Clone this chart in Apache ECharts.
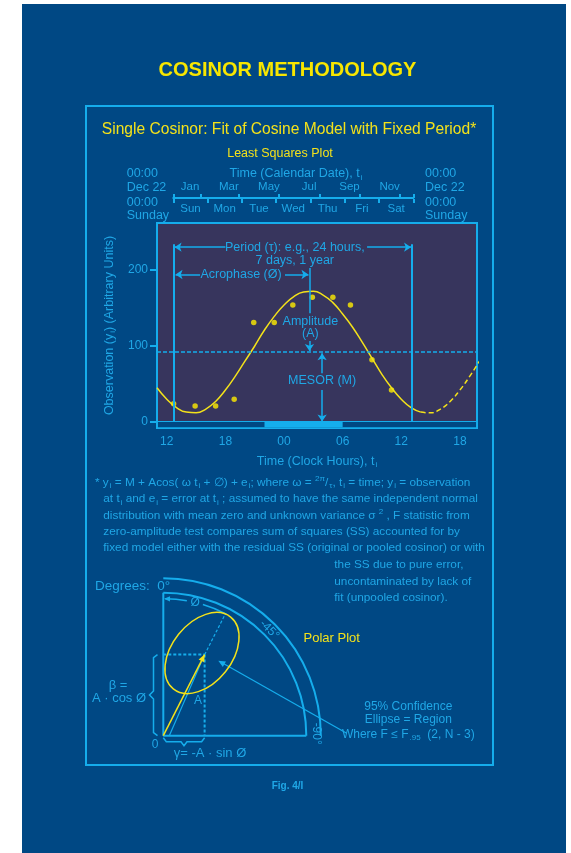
<!DOCTYPE html>
<html>
<head>
<meta charset="utf-8">
<script src="https://cdn.jsdelivr.net/npm/echarts@6/dist/echarts.min.js"></script>
<style>html,body{margin:0;padding:0;background:#fff}#main{width:571px;height:853px}</style>
</head>
<body>
<div id="main"></div>
<script>
// clock-hour axis (hours counted on past midnight), ticks and their labels
var hourTicks = [12, 18, 24, 30, 36, 42];
var hourLabels = ['12', '18', '00', '06', '12', '18'];
var valueTicks = [0, 100, 200];
// calendar axis: days after Dec 22
var monthTickDays = [0, 41, 100, 161, 222, 283, 344, 365];
var monthLabelDays = [25.5, 84.5, 145.5, 206.5, 268, 329];
var monthLabels = ['Jan', 'Mar', 'May', 'Jul', 'Sep', 'Nov'];
var dayTicks = [0, 1, 2, 3, 4, 5, 6, 7];
var dayLabelPos = [0.5, 1.5, 2.5, 3.5, 4.5, 5.5, 6.5];
var dayLabels = ['Sun', 'Mon', 'Tue', 'Wed', 'Thu', 'Fri', 'Sat'];
// observations
var obsHours = [12.7, 14.9, 17.0, 18.9, 20.9, 23.0, 24.9, 26.9, 29.0, 30.8, 33.0, 35.0];
var obsValues = [24, 21, 21, 30, 131, 131, 154, 164, 164, 154, 82, 42];
// fitted cosine
var fitHours = [11, 12, 13, 14, 15, 16, 17, 18, 19, 20, 21, 22, 23, 24, 25, 26, 27, 28, 29, 30, 31, 32, 33, 34, 35, 36, 37, 38];
var fitValues = [45, 30, 19, 13, 12, 17, 27, 42, 60, 80, 100, 121, 139, 154, 165, 171, 172, 167, 157, 142, 125, 105, 84, 63, 45, 30, 19, 13];
var fitDashHours = [38, 39, 40, 41, 42, 43, 44];
var fitDashValues = [13, 12, 17, 27, 42, 60, 80];
// annotations
var mesor = 92, peakValue = 172, acrophaseHour = 26.6;
var periodFrom = 12.7, periodTo = 37.1;
var sleepFrom = 22, sleepTo = 30;

var CYAN = '#15adec', TXT = '#1fa7e6', YELLOW = '#f3e21a', BLUE = '#004884', PLUM = '#37355d';
var FONT = '"Liberation Sans", Arial, Helvetica, sans-serif';

var chart = echarts.init(document.getElementById('main'));

function pairs(xs, ys) {
    return xs.map(function (x, i) { return [x, ys[i]]; });
}
function seg(x1, y1, x2, y2, s1, s2, style) {
    return [{coord: [x1, y1], symbol: s1 || 'none', lineStyle: style || {}},
            {coord: [x2, y2], symbol: s2 || 'none'}];
}
var subRich = {
    s: {color: TXT, fontSize: 8, fontFamily: FONT, verticalAlign: 'bottom', padding: [7, 0, 0, 1]}
};

var option = {
    backgroundColor: BLUE,
    animation: false,
    grid: [
        {left: 157, top: 223, width: 320, height: 205, show: true, backgroundColor: PLUM,
         borderColor: CYAN, borderWidth: 2},
        {left: 173.3, top: 198, width: 240, height: 1, show: false}
    ],
    xAxis: [{
        gridIndex: 0, type: 'value', min: 11, max: 43.75,
        axisLine: {show: true, onZero: true, lineStyle: {color: CYAN, width: 2}},
        axisTick: {show: true, customValues: hourTicks, length: 6, lineStyle: {color: CYAN, width: 2}},
        axisLabel: {customValues: hourTicks, color: TXT, fontSize: 12, fontFamily: FONT, margin: 8,
            formatter: function (v) { return hourLabels[hourTicks.indexOf(v)]; }},
        splitLine: {show: false},
        name: 'Time (Clock Hours), t{s|i}', nameLocation: 'middle', nameGap: 26,
        nameTextStyle: {color: TXT, fontSize: 12.5, fontFamily: FONT, rich: subRich}
    }, {
        gridIndex: 1, type: 'value', min: 0, max: 365, position: 'top',
        axisLine: {show: true, onZero: false, lineStyle: {color: CYAN, width: 2}},
        axisTick: {show: true, customValues: monthTickDays, length: 4, lineStyle: {color: CYAN, width: 2}},
        axisLabel: {customValues: monthLabelDays, color: TXT, fontSize: 11.5, fontFamily: FONT, margin: 5,
            formatter: function (v) { return monthLabels[monthLabelDays.indexOf(v)]; }},
        splitLine: {show: false}
    }, {
        gridIndex: 1, type: 'value', min: 0, max: 7, position: 'bottom',
        axisLine: {show: false, onZero: false},
        axisTick: {show: true, customValues: dayTicks, length: 4, lineStyle: {color: CYAN, width: 2}},
        axisLabel: {customValues: dayLabelPos, color: TXT, fontSize: 11.5, fontFamily: FONT, margin: 4,
            formatter: function (v) { return dayLabels[dayLabelPos.indexOf(v)]; }},
        splitLine: {show: false}
    }],
    yAxis: [{
        gridIndex: 0, type: 'value', min: -7.9, max: 261.8,
        axisLine: {show: false},
        axisTick: {show: true, customValues: valueTicks, length: 7, lineStyle: {color: CYAN, width: 2}},
        axisLabel: {customValues: valueTicks, color: TXT, fontSize: 12, fontFamily: FONT, margin: 9},
        splitLine: {show: false},
        name: 'Observation (y{s|i}) (Arbitrary Units)', nameLocation: 'middle', nameGap: 35,
        nameTextStyle: {color: TXT, fontSize: 12.5, fontFamily: FONT, rich: subRich}
    }, {
        gridIndex: 1, type: 'value', min: 0, max: 1, show: false
    }],
    series: [{
        type: 'line', xAxisIndex: 0, yAxisIndex: 0, smooth: true, symbol: 'none',
        data: pairs(fitHours, fitValues),
        lineStyle: {color: YELLOW, width: 1.5},
        markArea: {
            silent: true,
            data: [
                [{coord: [11.1, -6.9], itemStyle: {color: BLUE}}, {coord: [43.65, 0]}],
                [{coord: [sleepFrom, -6.9], itemStyle: {color: CYAN}}, {coord: [sleepTo, 0]}]
            ]
        },
        markLine: {
            silent: true, symbolSize: 7,
            label: {show: false},
            lineStyle: {color: CYAN, width: 2, type: 'solid'},
            data: [
                seg(11, mesor, 43.75, mesor, null, null, {type: [4, 2], width: 1.5}),
                seg(periodFrom, 234, periodFrom, 0),
                seg(periodTo, 234, periodTo, 0),
                seg(18.0, 230, periodFrom + 0.1, 230, null, 'arrow', {width: 1.5}),
                seg(32.5, 230, periodTo - 0.1, 230, null, 'arrow', {width: 1.5}),
                seg(15.4, 194, periodFrom + 0.2, 194, null, 'arrow', {width: 1.5}),
                seg(24.1, 194, acrophaseHour - 0.1, 194, null, 'arrow', {width: 1.5}),
                seg(acrophaseHour, 202.6, acrophaseHour, 143, null, null, {width: 1.5}),
                seg(acrophaseHour, 106.6, acrophaseHour, mesor + 1.5, null, 'arrow', {width: 1.5}),
                seg(27.9, 64, 27.9, mesor - 1.5, null, 'arrow', {width: 1.5}),
                seg(27.9, 42, 27.9, 0.8, null, 'arrow', {width: 1.5})
            ]
        }
    }, {
        type: 'line', xAxisIndex: 0, yAxisIndex: 0, smooth: true, symbol: 'none',
        data: pairs(fitDashHours, fitDashValues),
        lineStyle: {color: YELLOW, width: 1.5, type: [5, 3]}
    }, {
        type: 'scatter', xAxisIndex: 0, yAxisIndex: 0, symbolSize: 5.5,
        data: pairs(obsHours, obsValues),
        itemStyle: {color: '#ffee00'}
    }]
};
chart.setOption(option);

function px(x, y) { return chart.convertToPixel({gridIndex: 0}, [x, y]); }

var gRich = {
    s: {fill: TXT, color: TXT, fontSize: 8, fontFamily: FONT, verticalAlign: 'bottom', padding: [7, 0, 0, 1]},
    p: {fill: TXT, color: TXT, fontSize: 8, fontFamily: FONT, verticalAlign: 'top', padding: [0, 0, 7, 0]}
};
function txt(x, y, text, o) {
    o = o || {};
    return {type: 'text', x: x, y: y, rotation: o.rot || 0, z: 30, silent: true,
        style: {text: text, fill: o.color || TXT, fontSize: o.size || 12, fontFamily: FONT,
            fontWeight: o.weight || 'normal', align: o.align || 'center', verticalAlign: 'middle',
            rich: gRich}};
}
function line(x1, y1, x2, y2, o) {
    o = o || {};
    return {type: 'line', z: 25, silent: true, shape: {x1: x1, y1: y1, x2: x2, y2: y2},
        style: {stroke: o.color || CYAN, lineWidth: o.width || 1.5, lineDash: o.dash || null, fill: null}};
}
function arrowHead(tip, from, size, color) {
    var dx = tip[0] - from[0], dy = tip[1] - from[1], l = Math.sqrt(dx * dx + dy * dy);
    var ux = dx / l, uy = dy / l, bx = tip[0] - ux * size, by = tip[1] - uy * size, w = size * 0.45;
    return {type: 'polygon', z: 26, silent: true,
        shape: {points: [tip, [bx - uy * w, by + ux * w], [bx + uy * w, by - ux * w]]},
        style: {fill: color || CYAN}};
}

// polar plot layout (schematic)
var O = [163.3, 735.7];
var rInner = 143, rOuter = 157.5, rPhi = 137;
var acroDeg = 27, ampLen = 91;
function pol(r, deg) {
    var a = deg * Math.PI / 180;
    return [O[0] + r * Math.sin(a), O[1] - r * Math.cos(a)];
}
function arc(r, d1, d2, o) {
    o = o || {};
    return {type: 'arc', z: 25, silent: true,
        shape: {cx: O[0], cy: O[1], r: r, startAngle: (d1 - 90) * Math.PI / 180, endAngle: (d2 - 90) * Math.PI / 180, clockwise: true},
        style: {stroke: o.color || CYAN, lineWidth: o.width || 2, fill: null}};
}
var tip = pol(ampLen, acroDeg), ext = pol(rPhi, acroDeg);

var g = [
    {type: 'rect', z: 100, silent: true, shape: {x: 0, y: 0, width: 22, height: 853}, style: {fill: '#fff'}},
    {type: 'rect', z: 100, silent: true, shape: {x: 566, y: 0, width: 5, height: 853}, style: {fill: '#fff'}},
    {type: 'rect', z: 100, silent: true, shape: {x: 0, y: 0, width: 571, height: 4}, style: {fill: '#fff'}},
    {type: 'rect', z: 5, silent: true, shape: {x: 86, y: 106, width: 407, height: 659}, style: {stroke: CYAN, lineWidth: 2, fill: null}},
    txt(287.5, 70, 'COSINOR METHODOLOGY', {color: '#f7e600', size: 20, weight: 'bold'}),
    txt(289, 130, 'Single Cosinor: Fit of Cosine Model with Fixed Period*', {color: YELLOW, size: 15.6}),
    txt(280, 154, 'Least Squares Plot', {color: YELLOW, size: 12.5}),
    txt(296, 174, 'Time (Calendar Date), t{s|i}', {size: 12.5}),
    txt(126.7, 174, '00:00', {align: 'left', size: 12.5}),
    txt(126.7, 187.7, 'Dec 22', {align: 'left', size: 12.5}),
    txt(126.7, 203, '00:00', {align: 'left', size: 12.5}),
    txt(126.7, 215.5, 'Sunday', {align: 'left', size: 12.5}),
    txt(425, 174, '00:00', {align: 'left', size: 12.5}),
    txt(425, 187.7, 'Dec 22', {align: 'left', size: 12.5}),
    txt(425, 203, '00:00', {align: 'left', size: 12.5}),
    txt(425, 215.5, 'Sunday', {align: 'left', size: 12.5})
];
var p;
p = px(25.1, 229); g.push(txt(p[0], p[1], 'Period (τ): e.g., 24 hours,', {size: 12.5}));
p = px(25.1, 213); g.push(txt(p[0], p[1], '7 days, 1 year', {size: 12.5}));
p = px(19.6, 194); g.push(txt(p[0], p[1], 'Acrophase (Ø)', {size: 12.5}));
p = px(26.7, 132); g.push(txt(p[0], p[1], 'Amplitude', {size: 12.5}));
p = px(26.7, 117); g.push(txt(p[0], p[1], '(A)', {size: 12.5}));
p = px(27.9, 54); g.push(txt(p[0], p[1], 'MESOR (M)', {size: 12.5}));

// footnote
var fs = 11.8;
g.push(
    txt(95, 482.3, '* y{s|i} = M + Acos( ω t{s|i} + ∅) + e{s|i}; where ω = {p|2π}/{s|τ}, t{s|i} = time; y{s|i} = observation', {align: 'left', size: fs}),
    txt(103.3, 499, 'at t{s|i} and e{s|i} = error at t{s|i} ; assumed to have the same independent normal', {align: 'left', size: fs}),
    txt(103.3, 515.5, 'distribution with mean zero and unknown variance σ {p|2} , F statistic from', {align: 'left', size: fs}),
    txt(103.3, 531.7, 'zero-amplitude test compares sum of squares (SS) accounted for by', {align: 'left', size: fs}),
    txt(103.3, 548, 'fixed model either with the residual SS (original or pooled cosinor) or with', {align: 'left', size: fs}),
    txt(334.3, 565, 'the SS due to pure error,', {align: 'left', size: fs}),
    txt(334.3, 581.7, 'uncontaminated by lack of', {align: 'left', size: fs}),
    txt(334.3, 598, 'fit (unpooled cosinor).', {align: 'left', size: fs})
);

// polar plot
g.push(
    txt(95, 586.7, 'Degrees:  0°', {align: 'left', size: 13.5}),
    line(O[0], O[1], O[0], O[1] - rInner, {width: 2}),
    line(O[0], O[1], O[0] + rInner, O[1], {width: 2}),
    arc(rInner, 0, 90),
    arc(rOuter, 0, 90),
    arc(rPhi, 0.8, 9.9, {width: 1.5}),
    arc(rPhi, 16.8, acroDeg + 0.4, {width: 1.5}),
    arrowHead(pol(rPhi, 0.3), pol(rPhi, 3), 6),
    txt(pol(rPhi, 13.4)[0], pol(rPhi, 13.4)[1], 'Ø', {size: 12}),
    txt(pol(150, 45)[0], pol(150, 45)[1], '-45°', {size: 12, rot: -Math.PI / 4}),
    txt(O[0] + 153, O[1] - 2, '-90°', {size: 12, rot: -Math.PI / 2}),
    line(tip[0], tip[1], ext[0], ext[1], {width: 1.2, dash: [3, 2]}),
    line(O[0], tip[1], tip[0], tip[1], {width: 2, dash: [3, 2]}),
    line(tip[0], tip[1], tip[0], O[1], {width: 2, dash: [3, 2]}),
    line(O[0] + 6, O[1], tip[0], tip[1], {width: 1.2}),
    line(O[0], O[1], tip[0], tip[1], {width: 1.5, color: YELLOW}),
    arrowHead(tip, O, 7, YELLOW),
    {type: 'ellipse', z: 27, silent: true, x: 202, y: 653, rotation: -38.6 * Math.PI / 180,
        shape: {cx: 0, cy: 0, rx: 30, ry: 46}, style: {stroke: YELLOW, lineWidth: 1.5, fill: null}},
    txt(198, 701, 'A', {size: 12}),
    txt(331.7, 638.3, 'Polar Plot', {color: YELLOW, size: 13}),
    {type: 'polyline', z: 25, silent: true,
        shape: {points: [[157.5, tip[1]], [153.5, tip[1] + 3], [153.5, 691], [149.5, 695], [153.5, 699], [153.5, O[1] - 3], [157.5, O[1]]]},
        style: {stroke: CYAN, lineWidth: 1.5, fill: null}},
    {type: 'polyline', z: 25, silent: true,
        shape: {points: [[O[0], O[1] + 2], [O[0] + 3, O[1] + 6], [181, O[1] + 6], [184, O[1] + 10], [187, O[1] + 6], [tip[0] - 3, O[1] + 6], [tip[0], O[1] + 2]]},
        style: {stroke: CYAN, lineWidth: 1.5, fill: null}},
    txt(118, 685, 'β =', {size: 13}),
    txt(119, 698.3, 'A · cos Ø', {size: 13}),
    txt(155, 745, '0', {size: 12}),
    txt(210, 753.3, 'γ= -A · sin Ø', {size: 13}),
    line(346.7, 733.3, 222, 662.8, {width: 1.2}),
    arrowHead([218.3, 660.7], [346.7, 733.3], 7),
    txt(408.3, 706.7, '95% Confidence', {size: 12}),
    txt(408.3, 720, 'Ellipse = Region', {size: 12}),
    txt(408.3, 734.3, 'Where F ≤ F{s|.95}  (2, N - 3)', {size: 12}),
    txt(287.5, 786.7, 'Fig. 4/I', {size: 10, weight: 'bold'})
);

chart.setOption({graphic: {elements: g}});
</script>
</body>
</html>
